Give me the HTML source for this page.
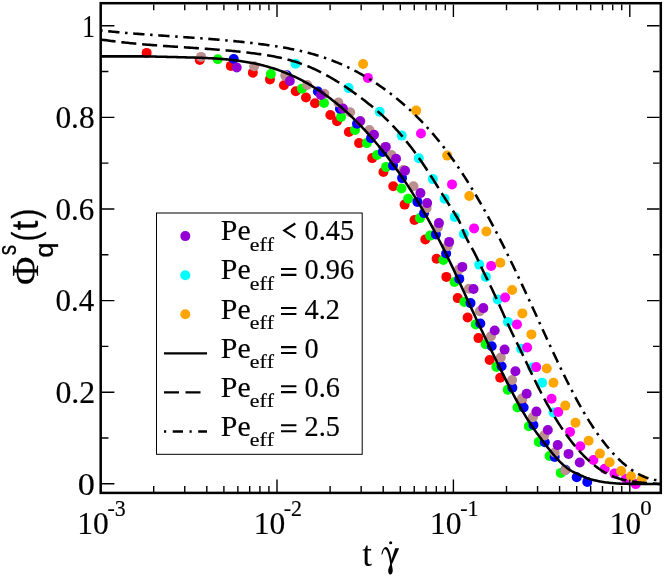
<!DOCTYPE html>
<html><head><meta charset="utf-8"><title>chart</title>
<style>
html,body{margin:0;padding:0;background:#fff;}
body{width:664px;height:576px;overflow:hidden;font-family:"Liberation Serif",serif;}
svg{display:block;will-change:transform;}
text{font-family:"Liberation Serif",serif;fill:#000;stroke:#000;stroke-width:0.18px;font-variant-ligatures:none;font-kerning:none;}
.sans{font-family:"Liberation Sans",sans-serif;stroke:#000;stroke-width:0.3px;}
</style></head><body>
<svg width="664" height="576" viewBox="0 0 664 576">
<rect width="664" height="576" fill="#fff"/>
<defs><clipPath id="c"><rect x="101" y="3" width="560" height="490"/></clipPath></defs>
<g clip-path="url(#c)">
<g fill="#ff0000"><circle cx="146.65" cy="52.90" r="5"/><circle cx="199.75" cy="59.90" r="5"/><circle cx="230.81" cy="65.90" r="5"/><circle cx="252.85" cy="72.80" r="5"/><circle cx="269.95" cy="79.40" r="5"/><circle cx="283.92" cy="85.25" r="5"/><circle cx="295.73" cy="91.25" r="5"/><circle cx="305.96" cy="97.50" r="5"/><circle cx="314.98" cy="103.25" r="5"/><circle cx="330.35" cy="115.00" r="5"/><circle cx="337.02" cy="121.25" r="5"/><circle cx="348.83" cy="132.00" r="5"/><circle cx="359.06" cy="143.10" r="5"/><circle cx="372.22" cy="158.10" r="5"/><circle cx="383.45" cy="172.00" r="5"/><circle cx="393.25" cy="186.25" r="5"/><circle cx="404.62" cy="204.60" r="5"/><circle cx="414.52" cy="220.00" r="5"/><circle cx="425.32" cy="239.40" r="5"/><circle cx="436.56" cy="258.75" r="5"/><circle cx="446.35" cy="276.90" r="5"/><circle cx="457.72" cy="298.10" r="5"/><circle cx="467.62" cy="317.50" r="5"/><circle cx="478.43" cy="338.10" r="5"/><circle cx="489.66" cy="360.00" r="5"/><circle cx="500.21" cy="377.75" r="5"/><circle cx="521.60" cy="400.60" r="5"/></g>
<g fill="#00ff00"><circle cx="217.77" cy="59.30" r="5"/><circle cx="270.87" cy="74.00" r="5"/><circle cx="301.93" cy="88.75" r="5"/><circle cx="323.97" cy="103.00" r="5"/><circle cx="341.07" cy="116.90" r="5"/><circle cx="355.04" cy="130.00" r="5"/><circle cx="366.85" cy="143.10" r="5"/><circle cx="377.08" cy="155.00" r="5"/><circle cx="386.10" cy="166.90" r="5"/><circle cx="401.47" cy="188.50" r="5"/><circle cx="408.14" cy="198.75" r="5"/><circle cx="419.95" cy="218.10" r="5"/><circle cx="430.18" cy="235.60" r="5"/><circle cx="443.34" cy="260.00" r="5"/><circle cx="454.57" cy="282.00" r="5"/><circle cx="464.37" cy="301.90" r="5"/><circle cx="475.74" cy="324.40" r="5"/><circle cx="485.64" cy="344.25" r="5"/><circle cx="496.44" cy="366.90" r="5"/><circle cx="507.68" cy="389.75" r="5"/><circle cx="517.47" cy="407.50" r="5"/><circle cx="528.84" cy="426.25" r="5"/><circle cx="538.74" cy="441.90" r="5"/><circle cx="549.55" cy="456.00" r="5"/><circle cx="560.78" cy="472.90" r="5"/></g>
<g fill="#0000ff"><circle cx="233.72" cy="59.00" r="5"/><circle cx="286.82" cy="75.30" r="5"/><circle cx="317.88" cy="91.50" r="5"/><circle cx="339.92" cy="108.75" r="5"/><circle cx="357.02" cy="123.75" r="5"/><circle cx="370.99" cy="138.10" r="5"/><circle cx="382.80" cy="151.90" r="5"/><circle cx="393.03" cy="165.60" r="5"/><circle cx="402.05" cy="178.10" r="5"/><circle cx="417.42" cy="201.90" r="5"/><circle cx="424.09" cy="213.10" r="5"/><circle cx="435.90" cy="234.40" r="5"/><circle cx="446.13" cy="253.50" r="5"/><circle cx="459.29" cy="278.90" r="5"/><circle cx="470.52" cy="303.10" r="5"/><circle cx="480.32" cy="323.50" r="5"/><circle cx="491.69" cy="346.25" r="5"/><circle cx="501.59" cy="366.25" r="5"/><circle cx="512.39" cy="387.75" r="5"/><circle cx="523.63" cy="407.50" r="5"/><circle cx="533.42" cy="425.00" r="5"/><circle cx="544.79" cy="442.20" r="5"/><circle cx="554.69" cy="456.90" r="5"/><circle cx="565.50" cy="469.80" r="5"/><circle cx="576.73" cy="477.25" r="5"/><circle cx="587.28" cy="481.90" r="5"/></g>
<g fill="#bc8f8f"><circle cx="201.08" cy="56.90" r="5"/><circle cx="254.18" cy="66.30" r="5"/><circle cx="285.24" cy="75.60" r="5"/><circle cx="307.28" cy="85.00" r="5"/><circle cx="324.38" cy="93.75" r="5"/><circle cx="338.35" cy="102.50" r="5"/><circle cx="350.16" cy="112.20" r="5"/><circle cx="360.39" cy="121.00" r="5"/><circle cx="369.41" cy="130.00" r="5"/><circle cx="384.78" cy="147.30" r="5"/><circle cx="391.45" cy="155.00" r="5"/><circle cx="403.26" cy="170.00" r="5"/><circle cx="413.49" cy="186.25" r="5"/><circle cx="426.65" cy="208.10" r="5"/><circle cx="437.88" cy="227.50" r="5"/><circle cx="447.68" cy="246.25" r="5"/><circle cx="459.05" cy="269.40" r="5"/><circle cx="468.95" cy="288.75" r="5"/><circle cx="479.75" cy="311.25" r="5"/><circle cx="490.99" cy="336.25" r="5"/><circle cx="500.78" cy="357.50" r="5"/><circle cx="512.15" cy="380.00" r="5"/><circle cx="522.05" cy="398.40" r="5"/><circle cx="532.86" cy="417.25" r="5"/><circle cx="544.09" cy="435.60" r="5"/><circle cx="554.64" cy="452.50" r="5"/><circle cx="565.25" cy="470.25" r="5"/></g>
<g fill="#9400d3"><circle cx="236.74" cy="67.50" r="5"/><circle cx="289.84" cy="81.00" r="5"/><circle cx="320.90" cy="95.00" r="5"/><circle cx="342.94" cy="108.50" r="5"/><circle cx="360.04" cy="121.20" r="5"/><circle cx="374.01" cy="134.75" r="5"/><circle cx="385.82" cy="146.90" r="5"/><circle cx="396.05" cy="158.75" r="5"/><circle cx="405.07" cy="170.80" r="5"/><circle cx="420.44" cy="193.10" r="5"/><circle cx="427.11" cy="203.10" r="5"/><circle cx="438.92" cy="223.10" r="5"/><circle cx="449.15" cy="241.90" r="5"/><circle cx="462.31" cy="266.90" r="5"/><circle cx="473.54" cy="289.00" r="5"/><circle cx="483.34" cy="308.10" r="5"/><circle cx="494.71" cy="330.50" r="5"/><circle cx="504.61" cy="349.60" r="5"/><circle cx="515.41" cy="371.25" r="5"/><circle cx="526.65" cy="393.75" r="5"/><circle cx="536.44" cy="411.60" r="5"/><circle cx="547.81" cy="430.00" r="5"/><circle cx="557.71" cy="445.10" r="5"/><circle cx="568.52" cy="453.90" r="5"/><circle cx="579.75" cy="462.50" r="5"/></g>
<g fill="#00ffff"><circle cx="295.53" cy="63.75" r="5"/><circle cx="348.63" cy="88.10" r="5"/><circle cx="379.69" cy="111.70" r="5"/><circle cx="401.73" cy="135.60" r="5"/><circle cx="418.83" cy="158.30" r="5"/><circle cx="432.80" cy="179.10" r="5"/><circle cx="444.61" cy="198.75" r="5"/><circle cx="454.84" cy="216.90" r="5"/><circle cx="463.86" cy="234.00" r="5"/><circle cx="479.23" cy="264.60" r="5"/><circle cx="485.90" cy="276.90" r="5"/><circle cx="497.71" cy="299.40" r="5"/><circle cx="507.94" cy="321.90" r="5"/><circle cx="521.10" cy="348.75" r="5"/><circle cx="532.33" cy="367.50" r="5"/><circle cx="542.13" cy="382.75" r="5"/><circle cx="553.50" cy="412.50" r="5"/></g>
<g fill="#ff00ff"><circle cx="367.86" cy="77.90" r="5"/><circle cx="420.96" cy="133.50" r="5"/><circle cx="452.02" cy="184.40" r="5"/><circle cx="474.06" cy="228.40" r="5"/><circle cx="491.16" cy="265.90" r="5"/><circle cx="505.13" cy="297.50" r="5"/><circle cx="516.94" cy="324.40" r="5"/><circle cx="527.17" cy="347.50" r="5"/><circle cx="536.19" cy="367.10" r="5"/><circle cx="551.56" cy="398.75" r="5"/><circle cx="558.23" cy="411.90" r="5"/><circle cx="570.04" cy="431.90" r="5"/><circle cx="580.27" cy="446.25" r="5"/><circle cx="593.43" cy="460.00" r="5"/><circle cx="604.66" cy="468.75" r="5"/><circle cx="614.46" cy="473.60" r="5"/><circle cx="625.83" cy="478.75" r="5"/><circle cx="635.73" cy="484.10" r="5"/></g>
<g fill="#ffa500"><circle cx="363.08" cy="64.00" r="5"/><circle cx="416.18" cy="110.60" r="5"/><circle cx="447.24" cy="155.60" r="5"/><circle cx="469.28" cy="196.00" r="5"/><circle cx="486.38" cy="231.50" r="5"/><circle cx="500.35" cy="262.75" r="5"/><circle cx="512.16" cy="290.00" r="5"/><circle cx="522.39" cy="313.40" r="5"/><circle cx="531.41" cy="334.40" r="5"/><circle cx="546.78" cy="368.50" r="5"/><circle cx="553.45" cy="382.75" r="5"/><circle cx="565.26" cy="405.60" r="5"/><circle cx="575.49" cy="422.75" r="5"/><circle cx="588.65" cy="440.80" r="5"/><circle cx="599.88" cy="453.60" r="5"/><circle cx="609.68" cy="462.25" r="5"/><circle cx="621.05" cy="471.00" r="5"/><circle cx="630.95" cy="476.25" r="5"/><circle cx="641.75" cy="479.50" r="5"/></g>
<g fill="none" stroke="#000" stroke-width="2.55">
<path d="M100.60 56.36 L102.10 56.36 L103.60 56.36 L105.10 56.36 L106.60 56.36 L108.10 56.36 L109.60 56.36 L111.10 56.36 L112.60 56.36 L114.10 56.36 L115.60 56.36 L117.10 56.36 L118.60 56.36 L120.10 56.36 L121.60 56.36 L123.10 56.36 L124.60 56.36 L126.10 56.36 L127.60 56.36 L129.10 56.36 L130.60 56.36 L132.10 56.36 L133.60 56.36 L135.10 56.36 L136.60 56.36 L138.10 56.36 L139.60 56.36 L141.10 56.36 L142.60 56.37 L144.10 56.40 L145.60 56.42 L147.10 56.45 L148.60 56.48 L150.10 56.51 L151.60 56.54 L153.10 56.57 L154.60 56.60 L156.10 56.63 L157.60 56.66 L159.10 56.70 L160.60 56.73 L162.10 56.77 L163.60 56.80 L165.10 56.84 L166.60 56.88 L168.10 56.91 L169.60 56.95 L171.10 56.99 L172.60 57.03 L174.10 57.06 L175.60 57.10 L177.10 57.14 L178.60 57.18 L180.10 57.22 L181.60 57.26 L183.10 57.30 L184.60 57.34 L186.10 57.38 L187.60 57.42 L189.10 57.46 L190.60 57.50 L192.10 57.54 L193.60 57.58 L195.10 57.63 L196.60 57.68 L198.10 57.73 L199.60 57.78 L201.10 57.83 L202.60 57.89 L204.10 57.95 L205.60 58.01 L207.10 58.08 L208.60 58.15 L210.10 58.23 L211.60 58.31 L213.10 58.39 L214.60 58.48 L216.10 58.57 L217.60 58.67 L219.10 58.78 L220.60 58.89 L222.10 59.01 L223.60 59.13 L225.10 59.26 L226.60 59.39 L228.10 59.54 L229.60 59.69 L231.10 59.85 L232.60 60.01 L234.10 60.19 L235.60 60.37 L237.10 60.56 L238.60 60.76 L240.10 60.97 L241.60 61.19 L243.10 61.41 L244.60 61.65 L246.10 61.90 L247.60 62.16 L249.10 62.42 L250.60 62.70 L252.10 62.99 L253.60 63.29 L255.10 63.60 L256.60 63.93 L258.10 64.26 L259.60 64.61 L261.10 64.97 L262.60 65.34 L264.10 65.73 L265.60 66.13 L267.10 66.54 L268.60 66.97 L270.10 67.41 L271.60 67.86 L273.10 68.33 L274.60 68.81 L276.10 69.31 L277.60 69.82 L279.10 70.35 L280.60 70.89 L282.10 71.45 L283.60 72.03 L285.10 72.62 L286.60 73.23 L288.10 73.85 L289.60 74.49 L291.10 75.15 L292.60 75.82 L294.10 76.51 L295.60 77.21 L297.10 77.94 L298.60 78.68 L300.10 79.43 L301.60 80.21 L303.10 81.00 L304.60 81.81 L306.10 82.64 L307.60 83.48 L309.10 84.34 L310.60 85.22 L312.10 86.12 L313.60 87.04 L315.10 87.97 L316.60 88.93 L318.10 89.90 L319.60 90.89 L321.10 91.90 L322.60 92.93 L324.10 93.97 L325.60 95.04 L327.10 96.12 L328.60 97.23 L330.10 98.35 L331.60 99.50 L333.10 100.66 L334.60 101.85 L336.10 103.05 L337.60 104.28 L339.10 105.52 L340.60 106.78 L342.10 108.07 L343.60 109.38 L345.10 110.70 L346.60 112.05 L348.10 113.42 L349.60 114.81 L351.10 116.22 L352.60 117.65 L354.10 119.10 L355.60 120.58 L357.10 122.08 L358.60 123.59 L360.10 125.13 L361.60 126.69 L363.10 128.28 L364.60 129.88 L366.10 131.51 L367.60 133.15 L369.10 134.82 L370.60 136.51 L372.10 138.22 L373.60 139.96 L375.10 141.72 L376.60 143.49 L378.10 145.30 L379.60 147.12 L381.10 148.96 L382.60 150.83 L384.10 152.72 L385.60 154.63 L387.10 156.56 L388.60 158.52 L390.10 160.50 L391.60 162.50 L393.10 164.52 L394.60 166.57 L396.10 168.64 L397.60 170.74 L399.10 172.86 L400.60 175.01 L402.10 177.19 L403.60 179.39 L405.10 181.61 L406.60 183.87 L408.10 186.15 L409.60 188.46 L411.10 190.80 L412.60 193.16 L414.10 195.56 L415.60 197.98 L417.10 200.44 L418.60 202.93 L420.10 205.44 L421.60 207.99 L423.10 210.57 L424.60 213.18 L426.10 215.82 L427.60 218.49 L429.10 221.19 L430.60 223.92 L432.10 226.69 L433.60 229.48 L435.10 232.30 L436.60 235.16 L438.10 238.04 L439.60 240.96 L441.10 243.90 L442.60 246.88 L444.10 249.88 L445.60 252.92 L447.10 255.98 L448.60 259.07 L450.10 262.20 L451.60 265.35 L453.10 268.53 L454.60 271.73 L456.10 274.95 L457.60 278.19 L459.10 281.45 L460.60 284.72 L462.10 288.00 L463.60 291.29 L465.10 294.58 L466.60 297.87 L468.10 301.16 L469.60 304.45 L471.10 307.73 L472.60 311.00 L474.10 314.26 L475.60 317.51 L477.10 320.73 L478.60 323.94 L480.10 327.12 L481.60 330.28 L483.10 333.41 L484.60 336.54 L486.10 339.65 L487.60 342.75 L489.10 345.86 L490.60 348.96 L492.10 352.05 L493.60 355.14 L495.10 358.21 L496.60 361.28 L498.10 364.34 L499.60 367.39 L501.10 370.42 L502.60 373.43 L504.10 376.43 L505.60 379.42 L507.10 382.38 L508.60 385.33 L510.10 388.25 L511.60 391.15 L513.10 394.02 L514.60 396.86 L516.10 399.66 L517.60 402.42 L519.10 405.13 L520.60 407.79 L522.10 410.40 L523.60 412.94 L525.10 415.42 L526.60 417.85 L528.10 420.22 L529.60 422.54 L531.10 424.81 L532.60 427.04 L534.10 429.22 L535.60 431.36 L537.10 433.47 L538.60 435.54 L540.10 437.58 L541.60 439.59 L543.10 441.57 L544.60 443.53 L546.10 445.48 L547.60 447.40 L549.10 449.29 L550.60 451.15 L552.10 452.97 L553.60 454.75 L555.10 456.48 L556.60 458.16 L558.10 459.78 L559.60 461.35 L561.10 462.84 L562.60 464.26 L564.10 465.61 L565.60 466.87 L567.10 468.04 L568.60 469.13 L570.10 470.12 L571.60 471.01 L573.10 471.82 L574.60 472.56 L576.10 473.27 L577.60 473.94 L579.10 474.61 L580.60 475.30 L582.10 476.01 L583.60 476.69 L585.10 477.31 L586.60 477.89 L588.10 478.42 L589.60 478.91 L591.10 479.36 L592.60 479.77 L594.10 480.16 L595.60 480.52 L597.10 480.85 L598.60 481.16 L600.10 481.46 L601.60 481.73 L603.10 481.98 L604.60 482.21 L606.10 482.42 L607.60 482.61 L609.10 482.79 L610.60 482.95 L612.10 483.09 L613.60 483.22 L615.10 483.34 L616.60 483.44 L618.10 483.53 L619.60 483.61 L621.10 483.68 L622.60 483.73 L624.10 483.78 L625.60 483.82 L627.10 483.85 L628.60 483.87 L630.10 483.89 L631.60 483.90 L633.10 483.90 L634.60 483.91 L636.10 483.91 L637.60 483.91 L639.10 483.91 L640.60 483.91 L642.10 483.91 L643.60 483.91 L645.10 483.91 L646.60 483.91 L648.10 483.91 L649.60 483.91 L651.10 483.91 L652.60 483.91 L654.10 483.91 L655.60 483.91 L657.10 483.94 L658.60 483.98 L660.10 484.00"/>
<path stroke-dasharray="15.08 5.83" d="M100.60 39.48 L102.10 39.70 L103.60 39.92 L105.10 40.13 L106.60 40.34 L108.10 40.54 L109.60 40.74 L111.10 40.94 L112.60 41.13 L114.10 41.32 L115.60 41.50 L117.10 41.69 L118.60 41.86 L120.10 42.04 L121.60 42.21 L123.10 42.37 L124.60 42.54 L126.10 42.70 L127.60 42.85 L129.10 43.01 L130.60 43.16 L132.10 43.31 L133.60 43.45 L135.10 43.59 L136.60 43.73 L138.10 43.87 L139.60 44.01 L141.10 44.14 L142.60 44.27 L144.10 44.40 L145.60 44.52 L147.10 44.65 L148.60 44.77 L150.10 44.89 L151.60 45.01 L153.10 45.12 L154.60 45.24 L156.10 45.35 L157.60 45.46 L159.10 45.57 L160.60 45.68 L162.10 45.79 L163.60 45.90 L165.10 46.00 L166.60 46.11 L168.10 46.21 L169.60 46.31 L171.10 46.41 L172.60 46.52 L174.10 46.62 L175.60 46.72 L177.10 46.82 L178.60 46.92 L180.10 47.02 L181.60 47.12 L183.10 47.21 L184.60 47.31 L186.10 47.41 L187.60 47.51 L189.10 47.61 L190.60 47.71 L192.10 47.81 L193.60 47.91 L195.10 48.02 L196.60 48.12 L198.10 48.22 L199.60 48.33 L201.10 48.43 L202.60 48.54 L204.10 48.64 L205.60 48.75 L207.10 48.86 L208.60 48.97 L210.10 49.08 L211.60 49.20 L213.10 49.31 L214.60 49.43 L216.10 49.55 L217.60 49.67 L219.10 49.79 L220.60 49.92 L222.10 50.04 L223.60 50.17 L225.10 50.30 L226.60 50.43 L228.10 50.57 L229.60 50.71 L231.10 50.85 L232.60 50.99 L234.10 51.14 L235.60 51.29 L237.10 51.44 L238.60 51.59 L240.10 51.75 L241.60 51.91 L243.10 52.08 L244.60 52.25 L246.10 52.42 L247.60 52.59 L249.10 52.77 L250.60 52.95 L252.10 53.14 L253.60 53.33 L255.10 53.52 L256.60 53.72 L258.10 53.92 L259.60 54.13 L261.10 54.34 L262.60 54.56 L264.10 54.79 L265.60 55.02 L267.10 55.26 L268.60 55.51 L270.10 55.77 L271.60 56.04 L273.10 56.31 L274.60 56.60 L276.10 56.89 L277.60 57.20 L279.10 57.51 L280.60 57.84 L282.10 58.18 L283.60 58.53 L285.10 58.90 L286.60 59.27 L288.10 59.66 L289.60 60.07 L291.10 60.49 L292.60 60.92 L294.10 61.37 L295.60 61.83 L297.10 62.31 L298.60 62.81 L300.10 63.33 L301.60 63.86 L303.10 64.41 L304.60 64.97 L306.10 65.56 L307.60 66.16 L309.10 66.78 L310.60 67.42 L312.10 68.08 L313.60 68.75 L315.10 69.44 L316.60 70.15 L318.10 70.87 L319.60 71.61 L321.10 72.37 L322.60 73.14 L324.10 73.93 L325.60 74.74 L327.10 75.56 L328.60 76.39 L330.10 77.24 L331.60 78.11 L333.10 78.99 L334.60 79.88 L336.10 80.79 L337.60 81.72 L339.10 82.66 L340.60 83.61 L342.10 84.58 L343.60 85.56 L345.10 86.55 L346.60 87.56 L348.10 88.58 L349.60 89.61 L351.10 90.65 L352.60 91.71 L354.10 92.78 L355.60 93.86 L357.10 94.96 L358.60 96.06 L360.10 97.18 L361.60 98.31 L363.10 99.45 L364.60 100.60 L366.10 101.76 L367.60 102.94 L369.10 104.13 L370.60 105.33 L372.10 106.56 L373.60 107.80 L375.10 109.05 L376.60 110.33 L378.10 111.63 L379.60 112.95 L381.10 114.30 L382.60 115.67 L384.10 117.07 L385.60 118.49 L387.10 119.95 L388.60 121.43 L390.10 122.94 L391.60 124.49 L393.10 126.06 L394.60 127.67 L396.10 129.30 L397.60 130.97 L399.10 132.66 L400.60 134.39 L402.10 136.15 L403.60 137.93 L405.10 139.75 L406.60 141.60 L408.10 143.48 L409.60 145.40 L411.10 147.34 L412.60 149.31 L414.10 151.32 L415.60 153.36 L417.10 155.42 L418.60 157.52 L420.10 159.65 L421.60 161.81 L423.10 164.01 L424.60 166.23 L426.10 168.49 L427.60 170.78 L429.10 173.10 L430.60 175.44 L432.10 177.80 L433.60 180.18 L435.10 182.58 L436.60 184.98 L438.10 187.38 L439.60 189.78 L441.10 192.18 L442.60 194.57 L444.10 196.94 L445.60 199.30 L447.10 201.63 L448.60 203.96 L450.10 206.29 L451.60 208.63 L453.10 210.99 L454.60 213.37 L456.10 215.79 L457.60 218.26 L459.10 220.89 L460.60 224.19 L462.10 228.12 L463.60 231.92 L465.10 235.35 L466.60 238.47 L468.10 241.37 L469.60 244.12 L471.10 246.79 L472.60 249.46 L474.10 252.20 L475.60 255.08 L477.10 258.13 L478.60 261.30 L480.10 264.52 L481.60 267.75 L483.10 270.93 L484.60 274.05 L486.10 277.11 L487.60 280.14 L489.10 283.17 L490.60 286.22 L492.10 289.31 L493.60 292.47 L495.10 295.69 L496.60 298.95 L498.10 302.26 L499.60 305.60 L501.10 308.95 L502.60 312.31 L504.10 315.66 L505.60 318.99 L507.10 322.30 L508.60 325.57 L510.10 328.78 L511.60 331.94 L513.10 335.05 L514.60 338.13 L516.10 341.19 L517.60 344.24 L519.10 347.31 L520.60 350.40 L522.10 353.52 L523.60 356.66 L525.10 359.82 L526.60 362.99 L528.10 366.16 L529.60 369.33 L531.10 372.49 L532.60 375.62 L534.10 378.73 L535.60 381.81 L537.10 384.85 L538.60 387.84 L540.10 390.79 L541.60 393.69 L543.10 396.54 L544.60 399.35 L546.10 402.11 L547.60 404.82 L549.10 407.49 L550.60 410.10 L552.10 412.68 L553.60 415.20 L555.10 417.68 L556.60 420.11 L558.10 422.49 L559.60 424.82 L561.10 427.11 L562.60 429.35 L564.10 431.53 L565.60 433.68 L567.10 435.77 L568.60 437.81 L570.10 439.81 L571.60 441.75 L573.10 443.65 L574.60 445.50 L576.10 447.29 L577.60 449.04 L579.10 450.74 L580.60 452.40 L582.10 454.00 L583.60 455.55 L585.10 457.06 L586.60 458.52 L588.10 459.93 L589.60 461.29 L591.10 462.60 L592.60 463.87 L594.10 465.09 L595.60 466.26 L597.10 467.38 L598.60 468.45 L600.10 469.48 L601.60 470.46 L603.10 471.39 L604.60 472.28 L606.10 473.11 L607.60 473.90 L609.10 474.65 L610.60 475.35 L612.10 476.01 L613.60 476.63 L615.10 477.21 L616.60 477.75 L618.10 478.25 L619.60 478.72 L621.10 479.16 L622.60 479.57 L624.10 479.95 L625.60 480.29 L627.10 480.62 L628.60 480.91 L630.10 481.18 L631.60 481.44 L633.10 481.67 L634.60 481.88 L636.10 482.07 L637.60 482.25 L639.10 482.41 L640.60 482.57 L642.10 482.71 L643.60 482.84 L645.10 482.96 L646.60 483.08 L648.10 483.19 L649.60 483.29 L651.10 483.40 L652.60 483.51 L654.10 483.61 L655.60 483.72 L657.10 483.84 L658.60 483.96 L660.10 484.00"/>
<path stroke-dasharray="2.5 5.63 11.34 5.63" stroke-dashoffset="0.5" d="M100.60 30.46 L102.10 30.62 L103.60 30.78 L105.10 30.94 L106.60 31.09 L108.10 31.24 L109.60 31.39 L111.10 31.54 L112.60 31.69 L114.10 31.83 L115.60 31.97 L117.10 32.11 L118.60 32.25 L120.10 32.39 L121.60 32.52 L123.10 32.65 L124.60 32.78 L126.10 32.91 L127.60 33.04 L129.10 33.16 L130.60 33.29 L132.10 33.41 L133.60 33.53 L135.10 33.65 L136.60 33.77 L138.10 33.88 L139.60 34.00 L141.10 34.11 L142.60 34.23 L144.10 34.34 L145.60 34.45 L147.10 34.56 L148.60 34.67 L150.10 34.78 L151.60 34.88 L153.10 34.99 L154.60 35.10 L156.10 35.20 L157.60 35.31 L159.10 35.41 L160.60 35.51 L162.10 35.62 L163.60 35.72 L165.10 35.82 L166.60 35.92 L168.10 36.03 L169.60 36.13 L171.10 36.23 L172.60 36.33 L174.10 36.43 L175.60 36.53 L177.10 36.64 L178.60 36.74 L180.10 36.84 L181.60 36.94 L183.10 37.04 L184.60 37.15 L186.10 37.25 L187.60 37.36 L189.10 37.46 L190.60 37.57 L192.10 37.67 L193.60 37.78 L195.10 37.88 L196.60 37.99 L198.10 38.10 L199.60 38.21 L201.10 38.32 L202.60 38.43 L204.10 38.55 L205.60 38.66 L207.10 38.78 L208.60 38.89 L210.10 39.01 L211.60 39.13 L213.10 39.25 L214.60 39.37 L216.10 39.50 L217.60 39.62 L219.10 39.75 L220.60 39.88 L222.10 40.01 L223.60 40.14 L225.10 40.27 L226.60 40.41 L228.10 40.55 L229.60 40.68 L231.10 40.83 L232.60 40.97 L234.10 41.12 L235.60 41.26 L237.10 41.41 L238.60 41.57 L240.10 41.72 L241.60 41.88 L243.10 42.04 L244.60 42.20 L246.10 42.37 L247.60 42.54 L249.10 42.71 L250.60 42.88 L252.10 43.05 L253.60 43.23 L255.10 43.42 L256.60 43.60 L258.10 43.79 L259.60 43.98 L261.10 44.17 L262.60 44.37 L264.10 44.57 L265.60 44.77 L267.10 44.98 L268.60 45.19 L270.10 45.41 L271.60 45.63 L273.10 45.85 L274.60 46.07 L276.10 46.31 L277.60 46.54 L279.10 46.79 L280.60 47.03 L282.10 47.29 L283.60 47.54 L285.10 47.81 L286.60 48.08 L288.10 48.36 L289.60 48.64 L291.10 48.93 L292.60 49.23 L294.10 49.54 L295.60 49.85 L297.10 50.17 L298.60 50.50 L300.10 50.84 L301.60 51.19 L303.10 51.54 L304.60 51.91 L306.10 52.28 L307.60 52.67 L309.10 53.06 L310.60 53.46 L312.10 53.87 L313.60 54.30 L315.10 54.73 L316.60 55.18 L318.10 55.64 L319.60 56.10 L321.10 56.58 L322.60 57.07 L324.10 57.58 L325.60 58.09 L327.10 58.62 L328.60 59.16 L330.10 59.72 L331.60 60.28 L333.10 60.86 L334.60 61.45 L336.10 62.06 L337.60 62.67 L339.10 63.31 L340.60 63.95 L342.10 64.61 L343.60 65.28 L345.10 65.96 L346.60 66.66 L348.10 67.37 L349.60 68.10 L351.10 68.84 L352.60 69.59 L354.10 70.36 L355.60 71.15 L357.10 71.94 L358.60 72.75 L360.10 73.58 L361.60 74.42 L363.10 75.27 L364.60 76.14 L366.10 77.03 L367.60 77.93 L369.10 78.84 L370.60 79.77 L372.10 80.72 L373.60 81.68 L375.10 82.65 L376.60 83.65 L378.10 84.65 L379.60 85.68 L381.10 86.71 L382.60 87.77 L384.10 88.84 L385.60 89.93 L387.10 91.03 L388.60 92.15 L390.10 93.28 L391.60 94.44 L393.10 95.60 L394.60 96.79 L396.10 97.99 L397.60 99.21 L399.10 100.45 L400.60 101.71 L402.10 102.99 L403.60 104.28 L405.10 105.60 L406.60 106.93 L408.10 108.29 L409.60 109.66 L411.10 111.06 L412.60 112.48 L414.10 113.91 L415.60 115.37 L417.10 116.85 L418.60 118.36 L420.10 119.88 L421.60 121.43 L423.10 123.01 L424.60 124.60 L426.10 126.22 L427.60 127.87 L429.10 129.54 L430.60 131.23 L432.10 132.95 L433.60 134.69 L435.10 136.46 L436.60 138.26 L438.10 140.08 L439.60 141.93 L441.10 143.81 L442.60 145.71 L444.10 147.64 L445.60 149.60 L447.10 151.59 L448.60 153.61 L450.10 155.66 L451.60 157.73 L453.10 159.83 L454.60 161.97 L456.10 164.13 L457.60 166.31 L459.10 168.53 L460.60 170.77 L462.10 173.05 L463.60 175.35 L465.10 177.67 L466.60 180.03 L468.10 182.41 L469.60 184.82 L471.10 187.25 L472.60 189.72 L474.10 192.21 L475.60 194.72 L477.10 197.27 L478.60 199.83 L480.10 202.43 L481.60 205.05 L483.10 207.70 L484.60 210.37 L486.10 213.07 L487.60 215.79 L489.10 218.54 L490.60 221.32 L492.10 224.12 L493.60 226.94 L495.10 229.79 L496.60 232.66 L498.10 235.56 L499.60 238.49 L501.10 241.43 L502.60 244.40 L504.10 247.40 L505.60 250.42 L507.10 253.46 L508.60 256.52 L510.10 259.60 L511.60 262.70 L513.10 265.82 L514.60 268.95 L516.10 272.11 L517.60 275.27 L519.10 278.45 L520.60 281.65 L522.10 284.85 L523.60 288.07 L525.10 291.30 L526.60 294.54 L528.10 297.78 L529.60 301.03 L531.10 304.29 L532.60 307.55 L534.10 310.82 L535.60 314.09 L537.10 317.37 L538.60 320.64 L540.10 323.92 L541.60 327.19 L543.10 330.47 L544.60 333.74 L546.10 337.00 L547.60 340.26 L549.10 343.51 L550.60 346.75 L552.10 349.98 L553.60 353.19 L555.10 356.39 L556.60 359.57 L558.10 362.74 L559.60 365.88 L561.10 368.99 L562.60 372.09 L564.10 375.15 L565.60 378.19 L567.10 381.20 L568.60 384.18 L570.10 387.12 L571.60 390.03 L573.10 392.90 L574.60 395.74 L576.10 398.54 L577.60 401.30 L579.10 404.02 L580.60 406.70 L582.10 409.33 L583.60 411.92 L585.10 414.47 L586.60 416.97 L588.10 419.42 L589.60 421.83 L591.10 424.19 L592.60 426.50 L594.10 428.77 L595.60 430.98 L597.10 433.16 L598.60 435.28 L600.10 437.36 L601.60 439.39 L603.10 441.37 L604.60 443.31 L606.10 445.19 L607.60 447.03 L609.10 448.82 L610.60 450.57 L612.10 452.26 L613.60 453.91 L615.10 455.51 L616.60 457.06 L618.10 458.56 L619.60 460.01 L621.10 461.41 L622.60 462.77 L624.10 464.07 L625.60 465.33 L627.10 466.54 L628.60 467.70 L630.10 468.81 L631.60 469.86 L633.10 470.87 L634.60 471.83 L636.10 472.74 L637.60 473.60 L639.10 474.41 L640.60 475.17 L642.10 475.88 L643.60 476.54 L645.10 477.15 L646.60 477.71 L648.10 478.21 L649.60 478.67 L651.10 479.07 L652.60 479.43 L654.10 479.73 L655.60 479.98 L657.10 480.18 L658.60 480.33 L660.10 480.43"/>
</g></g>
<path d="M101.8 483.80h12.6 M659.6 483.80h-12.6 M101.8 438.00h6.6 M659.6 438.00h-6.6 M101.8 392.19h12.6 M659.6 392.19h-12.6 M101.8 346.38h6.6 M659.6 346.38h-6.6 M101.8 300.58h12.6 M659.6 300.58h-12.6 M101.8 254.78h6.6 M659.6 254.78h-6.6 M101.8 208.97h12.6 M659.6 208.97h-12.6 M101.8 163.17h6.6 M659.6 163.17h-6.6 M101.8 117.36h12.6 M659.6 117.36h-12.6 M101.8 71.56h6.6 M659.6 71.56h-6.6 M101.8 25.75h12.6 M659.6 25.75h-12.6 M153.70 491.9v-5.8 M153.70 4.4v5.8 M184.76 491.9v-5.8 M184.76 4.4v5.8 M206.80 491.9v-5.8 M206.80 4.4v5.8 M223.90 491.9v-5.8 M223.90 4.4v5.8 M237.87 491.9v-5.8 M237.87 4.4v5.8 M249.68 491.9v-5.8 M249.68 4.4v5.8 M259.91 491.9v-5.8 M259.91 4.4v5.8 M268.93 491.9v-5.8 M268.93 4.4v5.8 M277.00 491.9v-12.5 M277.00 4.4v12.5 M330.10 491.9v-5.8 M330.10 4.4v5.8 M361.16 491.9v-5.8 M361.16 4.4v5.8 M383.20 491.9v-5.8 M383.20 4.4v5.8 M400.30 491.9v-5.8 M400.30 4.4v5.8 M414.27 491.9v-5.8 M414.27 4.4v5.8 M426.08 491.9v-5.8 M426.08 4.4v5.8 M436.31 491.9v-5.8 M436.31 4.4v5.8 M445.33 491.9v-5.8 M445.33 4.4v5.8 M453.40 491.9v-12.5 M453.40 4.4v12.5 M506.50 491.9v-5.8 M506.50 4.4v5.8 M537.56 491.9v-5.8 M537.56 4.4v5.8 M559.60 491.9v-5.8 M559.60 4.4v5.8 M576.70 491.9v-5.8 M576.70 4.4v5.8 M590.67 491.9v-5.8 M590.67 4.4v5.8 M602.48 491.9v-5.8 M602.48 4.4v5.8 M612.71 491.9v-5.8 M612.71 4.4v5.8 M621.73 491.9v-5.8 M621.73 4.4v5.8 M629.80 491.9v-12.5 M629.80 4.4v12.5" stroke="#000" stroke-width="1.4" fill="none"/>
<rect x="100.7" y="3.2" width="560.1" height="489.7" fill="none" stroke="#000" stroke-width="2.5"/>
<text transform="translate(77.63,494.51) scale(1.0913,1)" font-size="31.42">0</text>
<text transform="translate(55.41,402.90) scale(1.0131,1)" font-size="31.42">0.2</text>
<text transform="translate(55.43,311.29) scale(0.9868,1)" font-size="31.42">0.4</text>
<text transform="translate(55.43,219.68) scale(0.9868,1)" font-size="31.42">0.6</text>
<text transform="translate(55.42,128.07) scale(0.9998,1)" font-size="31.42">0.8</text>
<text transform="translate(82.22,36.95) scale(0.7880,1)" font-size="32.15">1</text>
<text transform="translate(77.24,533.90) scale(0.9905,1)" font-size="31.85">10</text>
<text transform="translate(107.41,515.89) scale(0.9635,1)" font-size="22.76">-3</text>
<text transform="translate(253.64,533.90) scale(0.9905,1)" font-size="31.85">10</text>
<text transform="translate(283.81,515.89) scale(0.9635,1)" font-size="22.76">-2</text>
<text transform="translate(430.04,533.90) scale(0.9905,1)" font-size="31.85">10</text>
<text transform="translate(460.21,515.89) scale(0.9635,1)" font-size="22.76">-1</text>
<text transform="translate(609.87,533.90) scale(0.9764,1)" font-size="31.85">10</text>
<text transform="translate(640.29,515.37) scale(1.0875,1)" font-size="21.02">0</text>
<rect x="156.5" y="213" width="205.7" height="241.3" fill="#fff" stroke="#000" stroke-width="1"/>
<circle cx="185.3" cy="236.1" r="5" fill="#9400d3"/>
<circle cx="185.3" cy="275.2" r="5" fill="#00ffff"/>
<circle cx="185.3" cy="314.3" r="5" fill="#ffa500"/>
<g stroke="#000" stroke-width="2.3" fill="none">
<path d="M164 353.3H207"/>
<path stroke-dasharray="15 6.5" d="M164 392.4H207"/>
<path stroke-dasharray="2.2 6.5 10.3 6.5" d="M164 431.5H207"/>
</g>
<text transform="translate(220.83,240.35) scale(1.0328,1)" font-size="28.87">Pe</text>
<text transform="translate(249.72,250.80) scale(1.1299,1)" font-size="19.34">eff</text>
<path d="M295.3 223.50L284.2 230.60L295.3 237.70" fill="none" stroke="#000" stroke-width="2.1" stroke-linejoin="miter"/>
<text transform="translate(304.51,240.35) scale(0.9737,1)" font-size="29.09">0.45</text>
<text transform="translate(220.83,279.43) scale(1.0328,1)" font-size="28.87">Pe</text>
<text transform="translate(249.72,289.88) scale(1.1299,1)" font-size="19.34">eff</text>
<path d="M281 268.98h15.4M281 274.88h15.4" fill="none" stroke="#000" stroke-width="2.1"/>
<text transform="translate(304.51,279.43) scale(0.9737,1)" font-size="29.09">0.96</text>
<text transform="translate(220.83,318.51) scale(1.0328,1)" font-size="28.87">Pe</text>
<text transform="translate(249.72,328.96) scale(1.1299,1)" font-size="19.34">eff</text>
<path d="M281 308.06h15.4M281 313.96h15.4" fill="none" stroke="#000" stroke-width="2.1"/>
<text transform="translate(304.51,318.51) scale(0.9737,1)" font-size="29.09">4.2</text>
<text transform="translate(220.83,357.59) scale(1.0328,1)" font-size="28.87">Pe</text>
<text transform="translate(249.72,368.04) scale(1.1299,1)" font-size="19.34">eff</text>
<path d="M281 347.14h15.4M281 353.04h15.4" fill="none" stroke="#000" stroke-width="2.1"/>
<text transform="translate(304.51,357.59) scale(0.9737,1)" font-size="29.09">0</text>
<text transform="translate(220.83,396.67) scale(1.0328,1)" font-size="28.87">Pe</text>
<text transform="translate(249.72,407.12) scale(1.1299,1)" font-size="19.34">eff</text>
<path d="M281 386.22h15.4M281 392.12h15.4" fill="none" stroke="#000" stroke-width="2.1"/>
<text transform="translate(304.51,396.67) scale(0.9737,1)" font-size="29.09">0.6</text>
<text transform="translate(220.83,435.75) scale(1.0328,1)" font-size="28.87">Pe</text>
<text transform="translate(249.72,446.20) scale(1.1299,1)" font-size="19.34">eff</text>
<path d="M281 425.30h15.4M281 431.20h15.4" fill="none" stroke="#000" stroke-width="2.1"/>
<text transform="translate(304.51,435.75) scale(0.9737,1)" font-size="29.09">2.5</text>
<text transform="translate(362.50,566.03) scale(0.9187,1)" font-size="36.38">t</text>
<g><circle cx="390.67" cy="542.81" r="1.55"/><path d="M381.50 554.61 C381.45 554.09 381.77 552.04 382.19 550.93 C382.62 549.82 383.47 548.58 384.07 547.94 C384.67 547.31 385.17 547.08 385.81 547.11 C386.44 547.15 387.25 547.40 387.89 548.15 C388.53 548.91 389.10 550.18 389.62 551.62 C390.15 553.07 390.63 555.16 391.01 556.83 C391.40 558.51 392.03 560.54 391.92 561.69 C391.80 562.85 390.74 564.24 390.32 563.78 C389.90 563.31 389.82 560.65 389.42 558.92 C389.01 557.18 388.38 554.81 387.89 553.36 C387.40 551.91 386.96 550.91 386.50 550.24 C386.04 549.56 385.57 549.33 385.11 549.33 C384.65 549.33 384.16 549.45 383.72 550.24 C383.28 551.02 382.84 553.33 382.47 554.06 C382.10 554.78 381.55 555.13 381.50 554.61Z"/><path d="M395.18 548.36 L399.14 548.15 L392.19 563.78 L390.39 563.22Z"/><path d="M390.67 562.39 C390.32 562.85 390.03 564.59 389.62 565.86 C389.22 567.13 388.39 568.81 388.24 570.03 C388.09 571.24 388.38 572.39 388.72 573.15 C389.07 573.92 389.79 574.55 390.32 574.61 C390.85 574.67 391.51 574.21 391.92 573.50 C392.32 572.79 392.73 571.65 392.75 570.38 C392.77 569.10 392.23 567.08 392.06 565.86 C391.88 564.65 391.94 563.66 391.71 563.08 C391.48 562.50 391.01 561.93 390.67 562.39Z"/></g>
<g transform="translate(0,285) rotate(-90)">
<text transform="translate(-0.01,38.20) scale(1.0175,1)" font-size="38.10">Φ</text>
<text class="sans" transform="translate(29.68,15.85) scale(0.8132,1)" font-size="25.51">s</text>
<text class="sans" transform="translate(27.24,53.04) scale(1.0535,1)" font-size="26.12">q</text>
<text class="sans" transform="translate(43.65,38.07) scale(0.7700,1)" font-size="37.40">(</text>
<text class="sans" transform="translate(55.00,37.53) scale(0.9222,1)" font-size="36.24">t</text>
<text class="sans" transform="translate(66.25,38.07) scale(0.8080,1)" font-size="37.40">)</text>
</g>
</svg></body></html>
